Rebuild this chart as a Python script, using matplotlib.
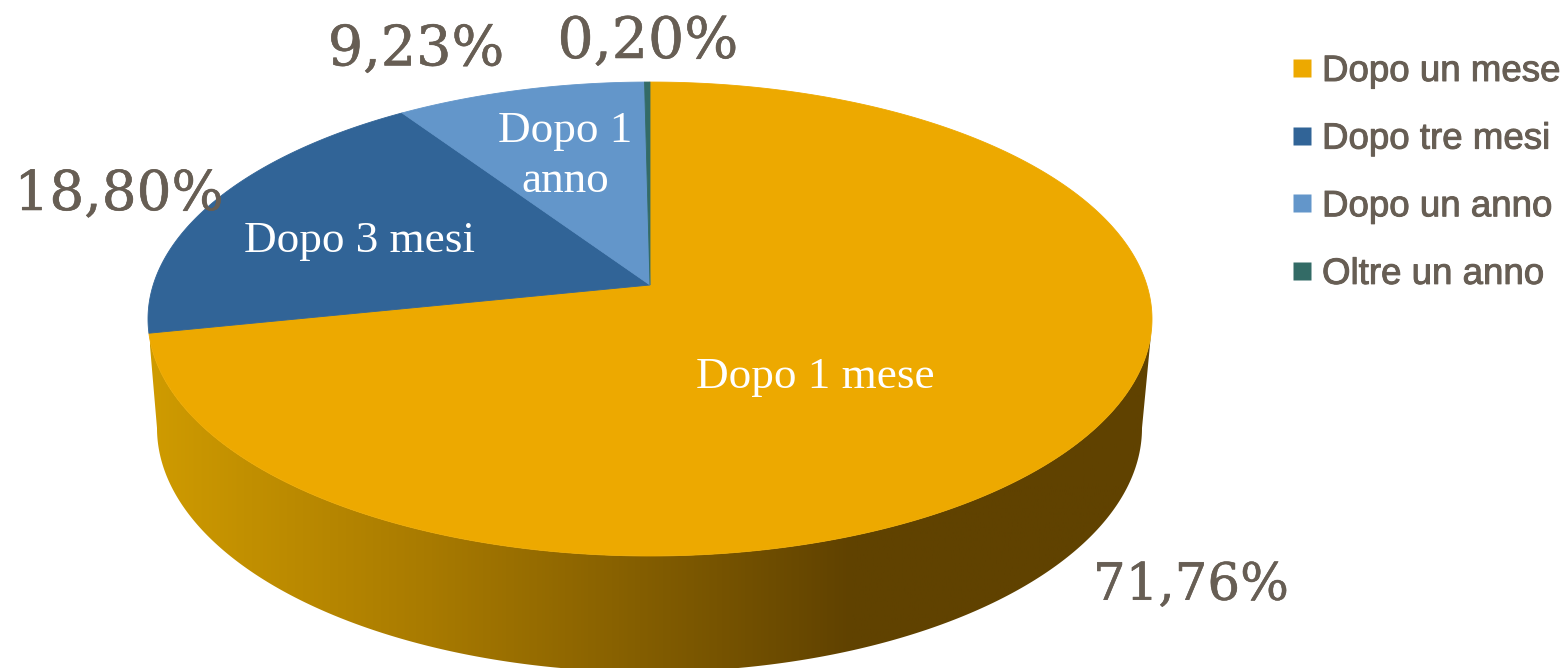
import numpy as np
import matplotlib
matplotlib.use("Agg")
import matplotlib.pyplot as plt
import matplotlib.patheffects as pe
from matplotlib.colors import LinearSegmentedColormap
from matplotlib.lines import Line2D
from matplotlib.patches import Polygon

legend_labels = ["Dopo un mese", "Dopo tre mesi", "Dopo un anno", "Oltre un anno"]
slice_labels = ["Dopo 1 mese", "Dopo 3 mesi", "Dopo 1\nanno", ""]
values = [71.76, 18.80, 9.23, 0.20]
value_labels = ["71,76%", "18,80%", "9,23%", "0,20%"]
colors = ["#EDA900", "#316497", "#6396CA", "#336B66"]
TEXT = "#675E54"

W, H = 1566, 668
fig = plt.figure(figsize=(W / 100, H / 100), dpi=100)
ax = fig.add_axes([0, 0, 1, 1])
ax.set_xlim(0, W)
ax.set_ylim(H, 0)
ax.axis("off")

# perspective view of a unit disc
CX, CY, A, B, K = 650.0, 285.0, 496.8, 232.1, 0.1435


def project(theta):
    """theta: clockwise angle from 12 o'clock, radians."""
    u, v = np.sin(theta), np.cos(theta)
    d = 1 + K * v
    return CX + A * u / d, CY - B * v / d


# side wall
t = np.linspace(np.pi * 0.5 + 0.2, np.radians(258.3), 300)
tx, ty = project(t)
p = np.linspace(np.pi, 0, 300)
bx = 649.5 + 492.5 * np.cos(p)
by = 428 + 244 * np.sin(p)
wall = np.r_[np.c_[tx, ty], np.c_[bx, by]]
clip = Polygon(wall, closed=True, transform=ax.transData, fc="none", ec="none")
ax.add_patch(clip)
cmap = LinearSegmentedColormap.from_list(
    "wall",
    [(0.0, "#CF9B00"), (0.28, "#A87A00"), (0.70, "#604200"), (1.0, "#604200")],
)
grad = np.linspace(0, 1, 512)[None, :]
im = ax.imshow(grad, cmap=cmap, extent=(150, 1152, H + 5, 300), aspect="auto", zorder=1)
im.set_clip_path(clip)
ax.set_xlim(0, W)
ax.set_ylim(H, 0)

# top face
start = 0.0
for val, col in zip(values, colors):
    end = start + val / sum(values) * 2 * np.pi
    th = np.linspace(start, end, max(int(val * 8), 6))
    x, y = project(th)
    ax.fill(np.r_[CX, x], np.r_[CY, y], color=col, lw=0.6, zorder=2)
    start = end

# labels inside slices
serif = "Liberation Serif"
for lab, (x, y) in zip(slice_labels, [(815, 377), (359, 241), (565, 156)]):
    if lab:
        ax.text(x, y, lab, color="white", fontsize=32.5, family=serif, ha="center",
                va="center", linespacing=1.3, zorder=4)

# value labels
thick = [pe.withStroke(linewidth=0.4, foreground=TEXT)]
for lab, (x, y), fs in zip(value_labels,
                           [(1191, 586), (119, 195), (416, 50), (648, 42)],
                           [37, 39.5, 40, 41]):
    ax.text(x, y, lab, color=TEXT, fontsize=fs, family="DejaVu Serif", ha="center",
            va="center", zorder=5, path_effects=thick)

handles = [Line2D([], [], ls="none", marker="s", ms=13.6, mfc=c, mec="none") for c in colors]
leg = ax.legend(handles, legend_labels, loc="upper left", bbox_to_anchor=(1289 / W, 1 - 54 / H),
                bbox_transform=fig.transFigure, frameon=False,
                prop={"family": "Liberation Sans", "size": 26.4}, labelcolor=TEXT,
                labelspacing=0.89, handlelength=0.7, handletextpad=0.2,
                borderpad=0, borderaxespad=0)
for txt in leg.get_texts():
    txt.set_path_effects([pe.withStroke(linewidth=0.7, foreground=TEXT)])

fig.savefig("out.png", dpi=100, facecolor="white")
